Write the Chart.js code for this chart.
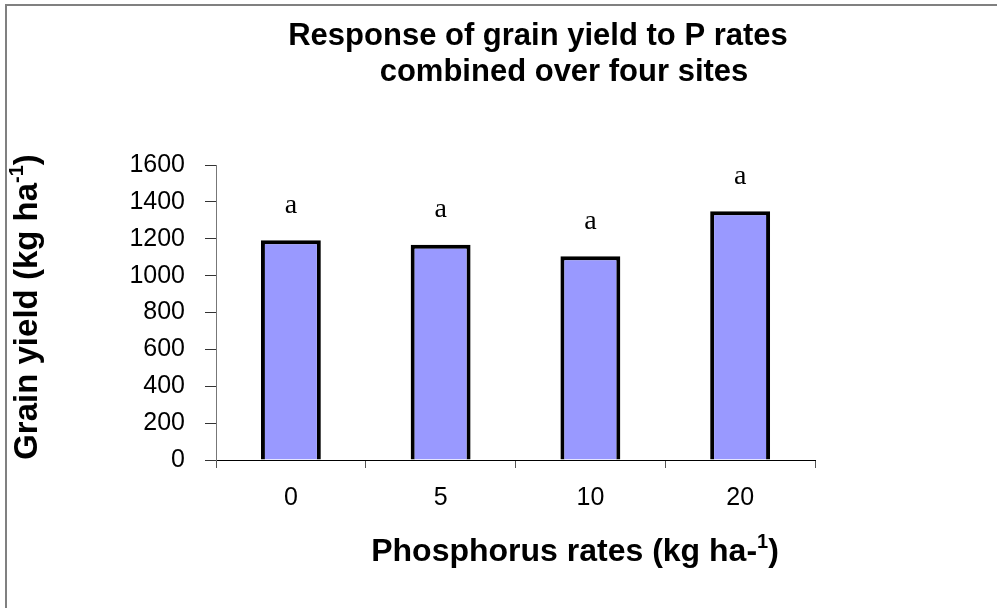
<!DOCTYPE html>
<html lang="en">
<head>
    <meta charset="UTF-8">
    <title>Grain yield response to P rates</title>
    <script src="https://cdn.jsdelivr.net/npm/chart.js"></script>
    <style>
        body { margin: 0; background: #fff; }
        #wrap { width: 997px; height: 608px; }
    </style>
</head>
<body>
    <div id="wrap">
        <canvas id="myChart" width="997" height="608"></canvas>
    </div>
    <script>
        // data
        const rates = ['0', '5', '10', '20'];
        const grainYield = [1192, 1168, 1105, 1349];
        const letters = ['a', 'a', 'a', 'a'];
        const yTicks = [0, 200, 400, 600, 800, 1000, 1200, 1400, 1600];

        const sans = '"Liberation Sans", Arial, sans-serif';
        const serif = '"Liberation Serif", "Times New Roman", serif';

        // draws text pieces, some raised as superscript, centred on x
        function drawPieces(ctx, pieces, size, x, y) {
            const big = 'bold ' + size + 'px ' + sans;
            const small = 'bold ' + Math.round(size * 0.62) + 'px ' + sans;
            let total = 0;
            pieces.forEach(p => {
                ctx.font = p.sup ? small : big;
                total += ctx.measureText(p.t).width;
            });
            let cx = x - total / 2;
            ctx.textAlign = 'left';
            ctx.textBaseline = 'alphabetic';
            pieces.forEach(p => {
                ctx.font = p.sup ? small : big;
                ctx.fillText(p.t, cx, p.sup ? y - size * 0.42 : y);
                cx += ctx.measureText(p.t).width;
            });
        }

        const decor = {
            id: 'decor',
            beforeDraw(chart) {
                const ctx = chart.ctx;
                ctx.save();
                ctx.fillStyle = '#fff';
                ctx.fillRect(0, 0, chart.width, chart.height);
                // frame of the chart object (left and top edges show)
                ctx.strokeStyle = '#808080';
                ctx.lineWidth = 2;
                ctx.beginPath();
                ctx.moveTo(6, chart.height);
                ctx.lineTo(6, 5);
                ctx.lineTo(chart.width, 5);
                ctx.stroke();
                ctx.restore();
            },
            afterDraw(chart) {
                const ctx = chart.ctx;
                ctx.save();
                ctx.fillStyle = '#000';

                // title, second line sits a bit to the right
                ctx.font = 'bold 31px ' + sans;
                ctx.textAlign = 'center';
                ctx.textBaseline = 'middle';
                ctx.fillText('Response of grain yield to P rates', 538, 36);
                ctx.fillText('combined over four sites', 564, 72);

                // x axis title
                drawPieces(ctx, [
                    { t: 'Phosphorus rates (kg ha-' },
                    { t: '1', sup: true },
                    { t: ')' }
                ], 32, 575, 561);

                // y axis title, rotated
                ctx.save();
                ctx.translate(37, 307);
                ctx.rotate(-Math.PI / 2);
                drawPieces(ctx, [
                    { t: 'Grain yield (kg ha' },
                    { t: '-1', sup: true },
                    { t: ')' }
                ], 33, 0, 0);
                ctx.restore();

                // significance letters above the bars
                const meta = chart.getDatasetMeta(0);
                ctx.font = '28px ' + serif;
                ctx.textAlign = 'center';
                ctx.textBaseline = 'middle';
                meta.data.forEach((bar, i) => {
                    ctx.fillText(letters[i], bar.x, bar.y - 35);
                });
                ctx.restore();
            }
        };

        const ctx = document.getElementById('myChart').getContext('2d');
        new Chart(ctx, {
            type: 'bar',
            plugins: [decor],
            data: {
                labels: rates,
                datasets: [{
                    data: grainYield,
                    backgroundColor: '#9999FF',
                    borderColor: '#000',
                    borderWidth: 4,
                    barPercentage: 0.4,
                    categoryPercentage: 1
                }]
            },
            options: {
                responsive: false,
                animation: false,
                events: [],
                layout: {
                    padding: { left: 0, top: 165, right: 182, bottom: 0 }
                },
                plugins: {
                    legend: { display: false },
                    tooltip: { enabled: false }
                },
                scales: {
                    x: {
                        afterFit(scale) { scale.height = 148; },
                        grid: {
                            offset: true,
                            drawOnChartArea: false,
                            drawTicks: true,
                            tickLength: 8,
                            color: '#555'
                        },
                        border: { color: '#000', width: 1 },
                        ticks: {
                            color: '#000',
                            padding: 15,
                            font: { family: sans, size: 25 }
                        }
                    },
                    y: {
                        min: 0,
                        max: 1600,
                        afterFit(scale) { scale.width = 216; },
                        afterBuildTicks(scale) {
                            scale.ticks = yTicks.map(v => ({ value: v }));
                        },
                        grid: {
                            drawOnChartArea: false,
                            drawTicks: true,
                            tickLength: 11,
                            color: '#333'
                        },
                        border: { color: '#777', width: 1 },
                        ticks: {
                            color: '#000',
                            padding: 20,
                            callback: v => String(v),
                            font: { family: sans, size: 25 }
                        }
                    }
                }
            }
        });
    </script>
</body>
</html>
